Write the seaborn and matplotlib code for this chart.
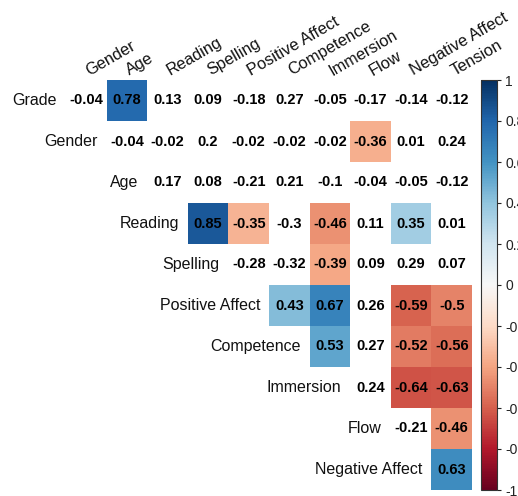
import numpy as np
import pandas as pd
import seaborn as sns
import matplotlib.pyplot as plt
from matplotlib.colors import ListedColormap
from matplotlib.ticker import FuncFormatter

# Variables (rows drop the last one, columns drop the first one)
rows = ["Grade", "Gender", "Age", "Reading", "Spelling", "Positive Affect",
        "Competence", "Immersion", "Flow", "Negative Affect"]
cols = ["Gender", "Age", "Reading", "Spelling", "Positive Affect",
        "Competence", "Immersion", "Flow", "Negative Affect", "Tension"]

# Upper-triangle correlations, one list per row starting at the diagonal
r_grade = [-0.04, 0.78, 0.13, 0.09, -0.18, 0.27, -0.05, -0.17, -0.14, -0.12]
r_gender = [-0.04, -0.02, 0.2, -0.02, -0.02, -0.02, -0.36, 0.01, 0.24]
r_age = [0.17, 0.08, -0.21, 0.21, -0.1, -0.04, -0.05, -0.12]
r_reading = [0.85, -0.35, -0.3, -0.46, 0.11, 0.35, 0.01]
r_spelling = [-0.28, -0.32, -0.39, 0.09, 0.29, 0.07]
r_pos_affect = [0.43, 0.67, 0.26, -0.59, -0.5]
r_competence = [0.53, 0.27, -0.52, -0.56]
r_immersion = [0.24, -0.64, -0.63]
r_flow = [-0.21, -0.46]
r_neg_affect = [0.63]

# Significance flags (1 = significant, cell is coloured)
s_grade = [0, 1, 0, 0, 0, 0, 0, 0, 0, 0]
s_gender = [0, 0, 0, 0, 0, 0, 1, 0, 0]
s_age = [0, 0, 0, 0, 0, 0, 0, 0]
s_reading = [1, 1, 0, 1, 0, 1, 0]
s_spelling = [0, 0, 1, 0, 0, 0]
s_pos_affect = [1, 1, 0, 1, 1]
s_competence = [1, 0, 1, 1]
s_immersion = [0, 1, 1]
s_flow = [0, 1]
s_neg_affect = [1]

row_values = [r_grade, r_gender, r_age, r_reading, r_spelling, r_pos_affect,
              r_competence, r_immersion, r_flow, r_neg_affect]
row_sig = [s_grade, s_gender, s_age, s_reading, s_spelling, s_pos_affect,
           s_competence, s_immersion, s_flow, s_neg_affect]

n = len(rows)
corr = np.full((n, n), np.nan)
sig = np.zeros((n, n), dtype=bool)
for i, (vals, flags) in enumerate(zip(row_values, row_sig)):
    corr[i, i:] = vals
    sig[i, i:] = np.array(flags, dtype=bool)

df = pd.DataFrame(corr, index=rows, columns=cols)
labels = np.where(np.isnan(corr), "", np.vectorize(lambda v: f"{v:g}")(np.nan_to_num(corr)))
lower = np.isnan(corr)

sns.set_theme(style="white")
plt.rcParams["font.family"] = ["Liberation Sans", "DejaVu Sans"]

W, H = 518, 496
fig = plt.figure(figsize=(W / 100, H / 100), dpi=100)
ax = fig.add_axes([66 / W, 6 / H, 406 / W, 410 / H])
cax = fig.add_axes([481 / W, 6 / H, 16 / W, 410 / H])

# White base layer carrying all value labels
sns.heatmap(df, mask=lower, cmap=ListedColormap(["white"]), cbar=False,
            annot=labels, fmt="",
            annot_kws=dict(color="black", fontsize=10.5, fontweight="bold"),
            xticklabels=False, yticklabels=False, ax=ax)
# Coloured layer for significant correlations
sns.heatmap(df, mask=lower | ~sig, cmap="RdBu", vmin=-1, vmax=1,
            cbar_ax=cax, xticklabels=False, yticklabels=False, ax=ax)

# Row labels sit just left of the diagonal cell
for i, name in enumerate(rows):
    ax.text(i - 0.22, i + 0.5, name, ha="right", va="center",
            fontsize=11.5, color="#111111")

# Column labels angled above the top row
for j, name in enumerate(cols):
    ax.text(j + 0.56, -0.1, name, rotation=30, rotation_mode="anchor",
            ha="left", va="baseline", fontsize=11.8, color="#111111",
            clip_on=False)

ax.set_xlabel("")
ax.set_ylabel("")

cbar = ax.collections[1].colorbar
cbar.set_ticks(np.round(np.arange(-1, 1.01, 0.2), 1))
cbar.ax.yaxis.set_major_formatter(FuncFormatter(lambda x, _: f"{round(x, 1) + 0:g}"))
cbar.ax.tick_params(length=3, width=0.8, labelsize=10, colors="#222222", pad=3)
cbar.outline.set_edgecolor("#333333")
cbar.outline.set_linewidth(0.8)

fig.savefig("out.png", dpi=100)
